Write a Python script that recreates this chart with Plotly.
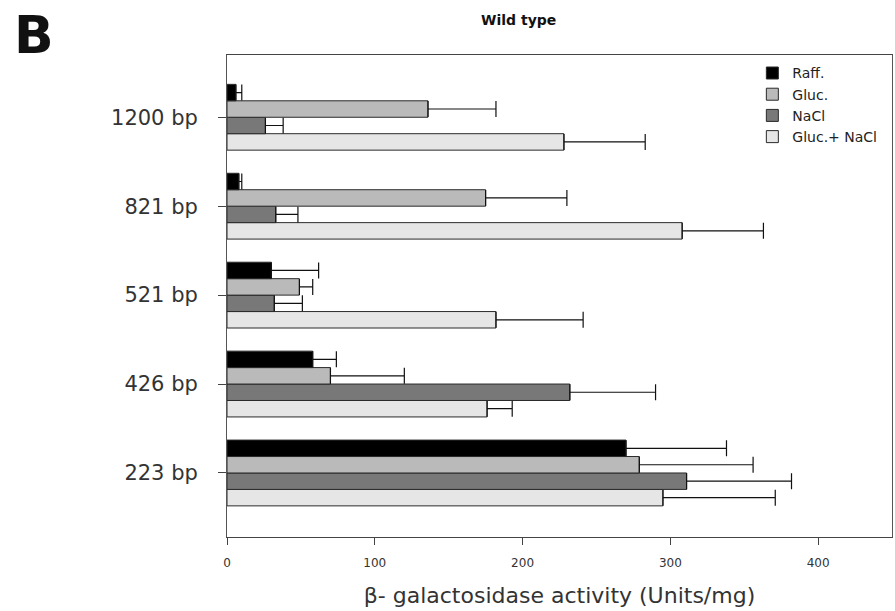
import plotly.graph_objects as go

categories = ["223 bp", "426 bp", "521 bp", "821 bp", "1200 bp"]

raff = [270, 58, 30, 8, 6]
raff_err = [68, 16, 32, 2, 4]
gluc = [279, 70, 49, 175, 136]
gluc_err = [77, 50, 9, 55, 46]
nacl = [311, 232, 32, 33, 26]
nacl_err = [71, 58, 19, 15, 12]
gluc_nacl = [295, 176, 182, 308, 228]
gluc_nacl_err = [76, 17, 59, 55, 55]

series = [
    ("Gluc.+ NaCl", gluc_nacl, gluc_nacl_err, "#e6e6e6"),
    ("NaCl", nacl, nacl_err, "#787878"),
    ("Gluc.", gluc, gluc_err, "#bababa"),
    ("Raff.", raff, raff_err, "#000000"),
]

fig = go.Figure()
for name, vals, errs, col in series:
    fig.add_trace(go.Bar(
        y=categories, x=vals, name=name, orientation="h",
        marker=dict(color=col, line=dict(color="#2a2a2a", width=1)),
        error_x=dict(type="data", array=errs, arrayminus=[0] * len(errs),
                     symmetric=False, color="#111111", thickness=1.2, width=8),
    ))

fig.update_layout(
    width=895, height=611,
    margin=dict(l=227, r=3, t=55, b=74),
    paper_bgcolor="white", plot_bgcolor="white",
    barmode="group", bargap=0.26, bargroupgap=0,
    font=dict(family="DejaVu Sans", color="#222222"),
    showlegend=True,
    legend=dict(traceorder="reversed", x=0.79, xanchor="left", y=0.995, yanchor="top",
                font=dict(size=14, color="#222222"), bgcolor="rgba(0,0,0,0)",
                itemwidth=30, tracegroupgap=0),
    xaxis=dict(range=[0, 450], tickvals=[0, 100, 200, 300, 400], ticks="outside", ticklen=7,
               tickcolor="#444", showgrid=False, zeroline=False, showline=True, mirror=True,
               linecolor="#444", linewidth=1, tickfont=dict(size=12, color="#333"),
               ticklabelstandoff=8,
               title=dict(text="β- galactosidase activity (Units/mg)", font=dict(size=22, color="#333"),
                          standoff=18)),
    yaxis=dict(categoryorder="array", categoryarray=categories, range=[-0.72, 4.70],
               ticks="outside", ticklen=8, tickcolor="#444", showgrid=False, zeroline=False,
               showline=True, mirror=True, linecolor="#555", linewidth=1,
               tickfont=dict(size=21, color="#333"), ticklabelstandoff=16),
    annotations=[
        dict(text="<b>Wild type</b>", x=0.439, y=20, xref="paper", yref="paper",
             showarrow=False, font=dict(size=14, color="#111"), yanchor="middle"),
        dict(text="<b>B</b>", x=12, y=35, showarrow=False, font=dict(size=52, color="#111"),
             xanchor="left", yanchor="middle"),
    ],
)
plot_h = 611 - 55 - 74
plot_w = 895 - 227 - 3
fig.layout.annotations[0].y = (611 - 74 - 20) / plot_h
fig.layout.annotations[1].update(xref="paper", yref="paper",
                                 x=(12 - 227) / plot_w, y=(611 - 74 - 35) / plot_h)

fig.write_html("out.html")
